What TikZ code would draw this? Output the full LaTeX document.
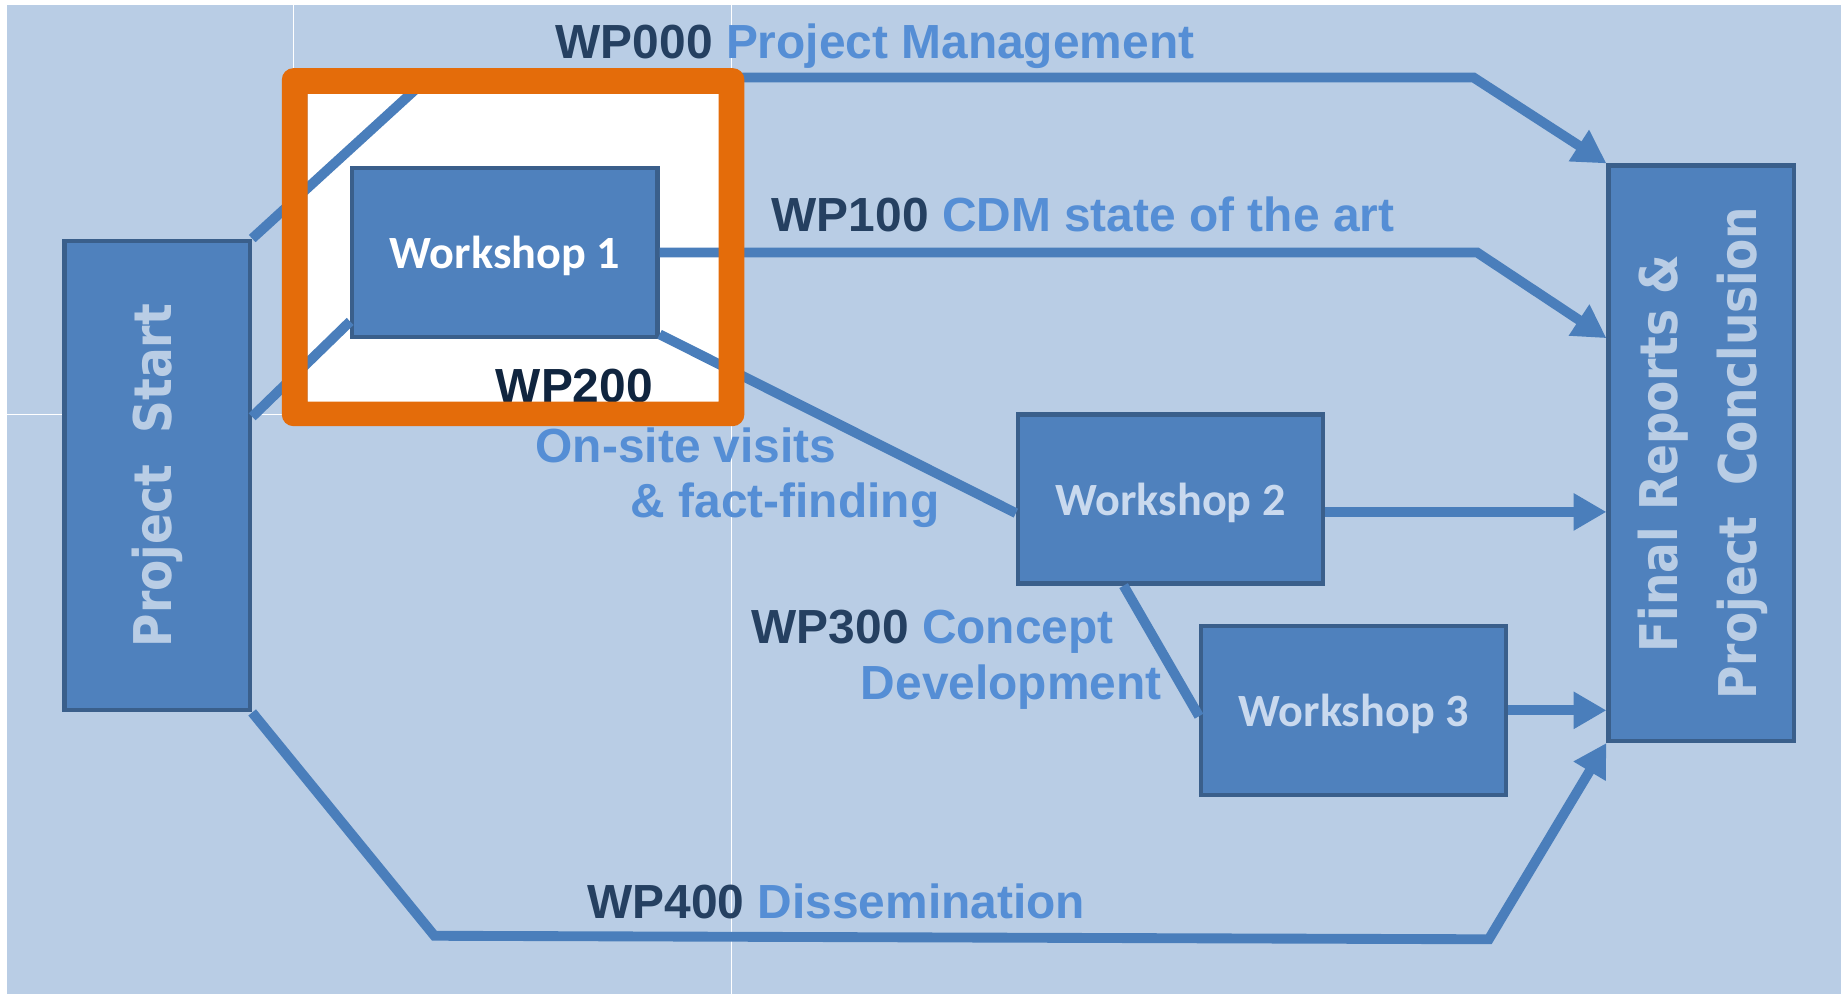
\documentclass[tikz,border=0pt]{standalone}
\usepackage{fontspec}
\usepackage{graphicx}
\setmainfont{Liberation Sans}
\newfontfamily\carlito{Carlito}
\newfontfamily\dejavu[FakeStretch=0.875]{DejaVu Sans}
\usetikzlibrary{arrows.meta}
\definecolor{slidebg}{HTML}{B9CDE5}
\definecolor{boxblue}{HTML}{4F81BD}
\definecolor{boxedge}{HTML}{3A5F8B}
\definecolor{wpline}{HTML}{4A7EBB}
\definecolor{wpdark}{HTML}{254061}
\definecolor{wplight}{HTML}{558ED5}
\definecolor{wpnavy}{HTML}{10253F}
\definecolor{wslight}{HTML}{C9D9EE}
\definecolor{wporange}{HTML}{E46C0A}

\begin{document}
\begin{tikzpicture}[x=0.025cm,y=-0.025cm,
  box/.style={draw=boxedge,fill=boxblue,line width=2.5pt,inner sep=0pt},
  wsbox/.style={box,minimum width=6.5cm,minimum height=3.6cm,text depth=0pt,font=\carlito\bfseries\fontsize{28}{32}\selectfont,text=wslight},
  endbox/.style={box,minimum width=3.95cm,font=\dejavu\bfseries\fontsize{31.5}{47.5}\selectfont,text=slidebg},
  wp/.style={draw=wpline,line width=0.21cm},
  wparrow/.style={wp,-{Triangle[length=0.7cm,width=0.75cm]}},
  wplabel/.style={anchor=base west,inner sep=0pt,font=\bfseries\fontsize{29}{35}\selectfont,text=wplight},
  seam/.style={draw=white,line width=0.6pt}]
	\fill[white] (0,0) rectangle (1568,847);
	\fill[slidebg] (6,4) rectangle (1568,847);
	\draw[seam] (250,4) -- (250,58);
	\draw[seam] (623,4) -- (623,847);
	\draw[seam] (6,353) -- (240,353);
	\fill[white] (262,80) rectangle (612,342);
	\node[endbox,minimum height=10cm] (start) at (134,405) {\rotatebox{90}{Project\ \ Start}};
	\node[endbox,minimum height=12.25cm] (final) at (1449,386) {\rotatebox{90}{\begin{tabular}{@{}c@{}}Final Reports \&\\Project\ \ Conclusion\end{tabular}}};
	\node[wsbox,text=white] (ws1) at (430,215) {Workshop 1};
	\node[wsbox] (ws2) at (997,425) {Workshop 2};
	\node[wsbox] (ws3) at (1153,605) {Workshop 3};
	\draw[wparrow] (start.north east) -- (365,66) -- (1255,66) -- (final.north west);
	\draw[wparrow] (ws1.east) -- (1258,215) -- ([yshift=-3.72cm]final.north west);
	\draw[wp] ([yshift=1.25cm]start.east) -- ([yshift=0.375cm]ws1.south west);
	\draw[wp] ([yshift=0.1cm]ws1.south east) -- ([yshift=-0.3cm]ws2.west);
	\draw[wp] ([xshift=-1cm]ws2.south) -- ([yshift=-0.125cm]ws3.west);
	\draw[wparrow] ([yshift=-0.275cm]ws2.east) -- ([yshift=-0.275cm]ws2.east -| final.west);
	\draw[wparrow] (ws3.east) -- (ws3.east -| final.west);
	\draw[wparrow] (start.south east) -- (370,797) -- (1268,800) -- (final.south west);
	\node[wplabel] (wp000) at (473,50) {\textcolor{wpdark}{WP000} Project Management};
	\node[wplabel] (wp100) at (657,197) {\textcolor{wpdark}{WP100} CDM state of the art};
	\node[wplabel,text=wpnavy] (wp200) at (422,343) {WP200};
	\node[wplabel] (wp200a) at (456,394) {On-site visits};
	\node[wplabel] (wp200b) at (537,441) {\& fact-finding};
	\node[wplabel] (wp300) at (640,548) {\textcolor{wpdark}{WP300} Concept};
	\node[wplabel] (wp300b) at (733,596) {Development};
	\node[wplabel] (wp400) at (500,782) {\textcolor{wpdark}{WP400} Dissemination};
	\fill[wporange,even odd rule,rounded corners=0.25cm] (240,58) rectangle (634,363) [sharp corners] (262,80) rectangle (612,342);
\end{tikzpicture}
\end{document}
